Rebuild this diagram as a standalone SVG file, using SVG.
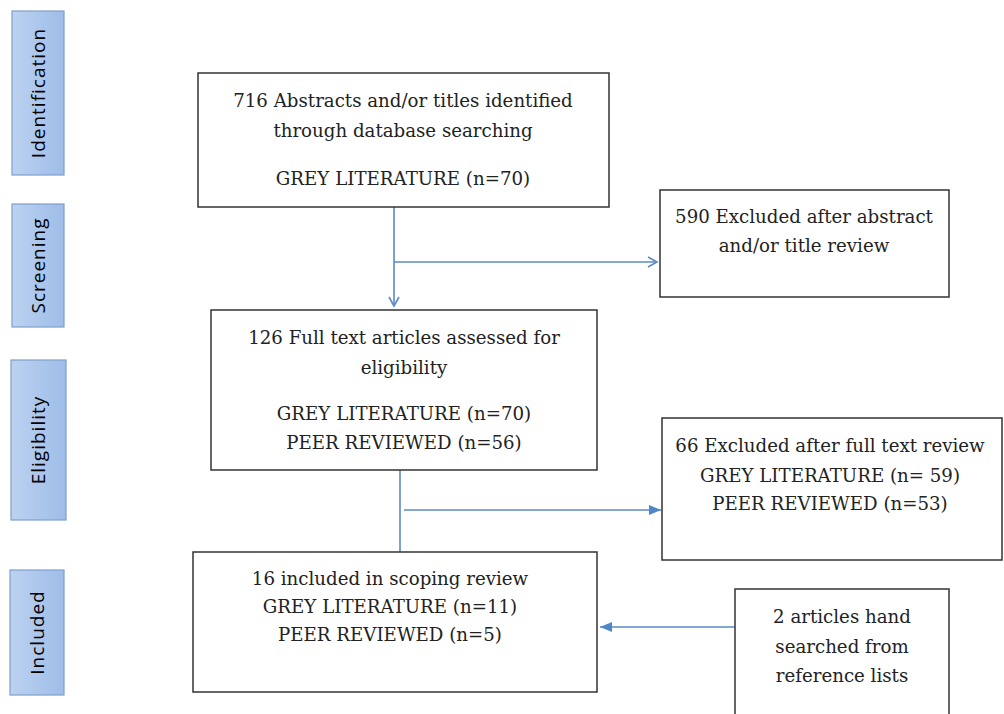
<svg xmlns="http://www.w3.org/2000/svg" width="1004" height="714" viewBox="0 0 1004 714">
<style>
.stage rect{fill:url(#blue);stroke:#7f9fcb;stroke-width:1.2}
.stage text{font-family:"Open Sans","Liberation Sans",sans-serif;font-size:19px;fill:#000;text-anchor:middle;letter-spacing:1px}
.box rect{fill:#fff;stroke:#333;stroke-width:1.5}
.box text{font-family:"DejaVu Serif","Liberation Serif",serif;font-size:18.2px;fill:#222;text-anchor:middle}
.conn{stroke:#5b8bc6;stroke-width:1.6;fill:none}
</style>
<defs>
<linearGradient id="blue" x1="0" y1="0" x2="1" y2="0">
<stop offset="0" stop-color="#bcd2f1"/>
<stop offset="1" stop-color="#9ebde8"/>
</linearGradient>
<marker id="open" markerWidth="12" markerHeight="12" refX="10" refY="6" orient="auto" markerUnits="userSpaceOnUse">
<path d="M1,1 L10,6 L1,11" fill="none" stroke="#5b8bc6" stroke-width="1.6"/>
</marker>
<marker id="fill" markerWidth="14" markerHeight="12" refX="12" refY="6" orient="auto" markerUnits="userSpaceOnUse">
<path d="M0,1 L12,6 L0,11 Z" fill="#4f86c9"/>
</marker>
</defs>
<rect width="1004" height="714" fill="#fff"/>
<g id="stage-identification" class="stage"><rect x="12" y="11" width="52" height="164"/><text transform="translate(45,93) rotate(-90)">Identification</text></g>
<g id="stage-screening" class="stage"><rect x="12" y="204" width="52" height="123"/><text transform="translate(45,265.5) rotate(-90)">Screening</text></g>
<g id="stage-eligibility" class="stage"><rect x="11" y="360" width="55" height="160"/><text transform="translate(45,440) rotate(-90)">Eligibility</text></g>
<g id="stage-included" class="stage"><rect x="10" y="570" width="54" height="125"/><text transform="translate(44,632.5) rotate(-90)">Included</text></g>
<g id="connectors">
<line class="conn" x1="394" y1="207" x2="394" y2="306" marker-end="url(#open)"/>
<line class="conn" x1="394" y1="262" x2="657" y2="262" marker-end="url(#open)"/>
<line class="conn" x1="400" y1="470" x2="400" y2="552"/>
<line class="conn" x1="404" y1="510" x2="661" y2="510" marker-end="url(#fill)"/>
<line class="conn" x1="735" y1="627" x2="600" y2="627" marker-end="url(#fill)"/>
</g>
<g id="node-identified" class="box"><rect x="198" y="73" width="411" height="134"/>
<text x="403" y="107">716 Abstracts and/or titles identified</text>
<text x="403" y="137">through database searching</text>
<text x="403" y="185">GREY LITERATURE (n=70)</text></g>
<g id="node-excluded1" class="box"><rect x="660" y="190" width="289" height="107"/>
<text x="804" y="223">590 Excluded after abstract</text>
<text x="804" y="252">and/or title review</text></g>
<g id="node-fulltext" class="box"><rect x="211" y="310" width="386" height="160"/>
<text x="404" y="344">126 Full text articles assessed for</text>
<text x="404" y="374">eligibility</text>
<text x="404" y="420">GREY LITERATURE (n=70)</text>
<text x="404" y="449">PEER REVIEWED (n=56)</text></g>
<g id="node-excluded2" class="box"><rect x="662" y="418" width="340" height="142"/>
<text x="830" y="452">66 Excluded after full text review</text>
<text x="830" y="482">GREY LITERATURE (n= 59)</text>
<text x="830" y="510">PEER REVIEWED (n=53)</text></g>
<g id="node-included" class="box"><rect x="193" y="552" width="404" height="140"/>
<text x="390" y="585">16 included in scoping review</text>
<text x="390" y="613">GREY LITERATURE (n=11)</text>
<text x="390" y="641">PEER REVIEWED (n=5)</text></g>
<g id="node-hand" class="box"><rect x="735" y="589" width="214" height="140"/>
<text x="842" y="623">2 articles hand</text>
<text x="842" y="653">searched from</text>
<text x="842" y="682">reference lists</text></g>
</svg>
